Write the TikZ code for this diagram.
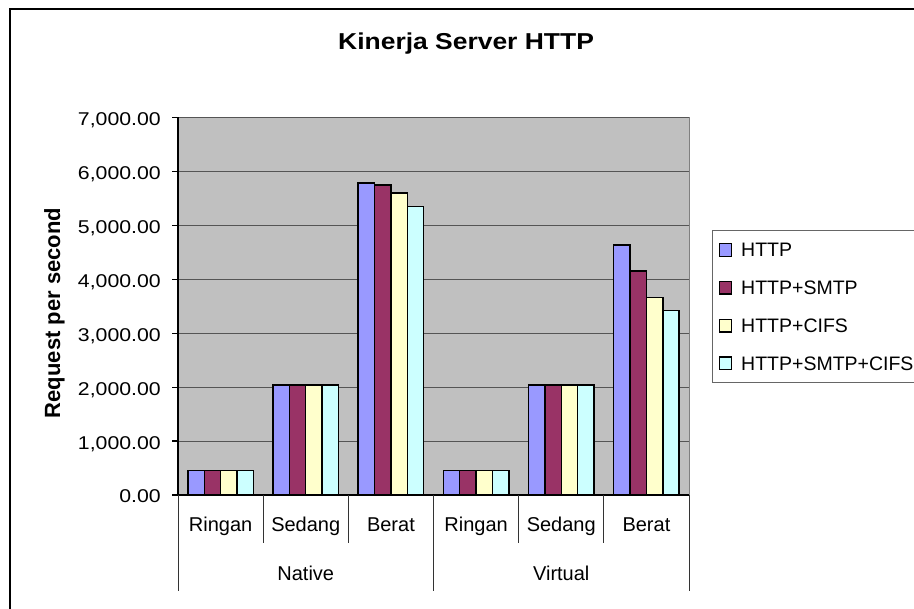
\documentclass[tikz,border=0pt]{standalone}
\usepackage{fontspec}
\setmainfont{Liberation Sans}
\newfontfamily\stf{Liberation Sans}[FakeStretch=1.15]
\definecolor{cA}{HTML}{9999FF}
\definecolor{cB}{HTML}{993366}
\definecolor{cC}{HTML}{FFFFCC}
\definecolor{cD}{HTML}{CCFFFF}
\definecolor{plotbg}{HTML}{C0C0C0}
\definecolor{gridc}{HTML}{555555}
\tikzset{
  bar/.style={draw=black,line width=1.4pt},
  gridline/.style={draw=gridc,line width=1pt},
  axisline/.style={draw=black,line width=1.2pt},
  sepline/.style={draw=black!80,line width=0.9pt},
  ticklab/.style={anchor=base east,inner sep=0pt,font=\stf\fontsize{18.5}{20}\selectfont},
  catlab/.style={anchor=base,inner sep=0pt,font=\fontsize{20}{22}\selectfont},
  leglab/.style={anchor=base west,inner sep=0pt,font=\fontsize{19.5}{21}\selectfont},
  legbox/.style={draw=black,line width=1.3pt}
}
\newcommand\bargroup[5]{%
  \foreach \v/\col [count=\k from 0] in {#2/cA,#3/cB,#4/cC,#5/cD}{%
    \pgfmathsetmacro\xa{178+#1*85.1667+9.83+\k*16.38}%
    \pgfmathsetmacro\ya{495-\v*0.05393}%
    \filldraw[bar,fill=\col] (\xa,495) rectangle (\xa+16.38,\ya);
  }}
\begin{document}
\begin{tikzpicture}[x=1pt,y=-1pt]
\useasboundingbox (0,0) rectangle (914,609);
\fill[white] (0,0) rectangle (914,609);
% outer chart frame (cut at right and bottom)
\draw[line width=2pt] (10,615) -- (10,9) -- (920,9);
% title
\node[anchor=base west,inner sep=0pt,font=\stf\bfseries\fontsize{23}{25}\selectfont] (title) at (338,49.3) {Kinerja Server HTTP};
% plot area
\fill[plotbg] (178,117.5) rectangle (689,495);
\draw[draw=gray,line width=1pt] (689,117.5) -- (689,495);
\foreach \i in {1,...,7}{
  \pgfmathsetmacro\yy{495-\i*53.93}
  \draw[gridline] (178,\yy) -- (689,\yy);
}
% value axis
\draw[axisline] (178,117.5) -- (178,495);
\foreach \i/\lab in {0/0.00,1/{1,000.00},2/{2,000.00},3/{3,000.00},4/{4,000.00},5/{5,000.00},6/{6,000.00},7/{7,000.00}}{
  \pgfmathsetmacro\yy{495-\i*53.93}
  \draw[axisline] (172,\yy) -- (178,\yy);
  \node[ticklab] (tick\i) at (161,\yy+8) {\lab};
}
\node[rotate=90,anchor=base,inner sep=0pt,font=\bfseries\fontsize{22}{24}\selectfont] (ylab) at (60,313) {Request per second};
% bars
\bargroup{0}{450}{450}{450}{450}
\bargroup{1}{2040}{2040}{2040}{2040}
\bargroup{2}{5783}{5746}{5597}{5349}
\bargroup{3}{450}{450}{450}{450}
\bargroup{4}{2040}{2040}{2040}{2040}
\bargroup{5}{4638}{4156}{3668}{3420}
% category axis
\draw[axisline] (172,495) -- (689,495);
\foreach \k in {1,2,4,5}{
  \draw[sepline] (178+\k*85.1667,495) -- (178+\k*85.1667,543);
}
\foreach \k in {0,3,6}{
  \draw[sepline] (178+\k*85.1667,495) -- (178+\k*85.1667,591);
}
\foreach \lab [count=\k from 0] in {Ringan,Sedang,Berat,Ringan,Sedang,Berat}{
  \node[catlab] (cat\k) at (178+\k*85.1667+42.58,531.7) {\lab};
}
\node[catlab] (gNative) at (305.75,581) {Native};
\node[catlab] (gVirtual) at (561.25,581) {Virtual};
% legend
\draw[draw=gray!80!black,line width=1pt] (712,231) rectangle (920,383);
\foreach \lab/\col [count=\k from 0] in {HTTP/cA,HTTP+SMTP/cB,HTTP+CIFS/cC,HTTP+SMTP+CIFS/cD}{
  \pgfmathsetmacro\yy{250+\k*37.8}
  \filldraw[legbox,fill=\col] (719.5,\yy-6.3) rectangle (731.5,\yy+6.3);
  \node[leglab] (leg\k) at (741,\yy+7) {\lab};
}
\end{tikzpicture}
\end{document}
